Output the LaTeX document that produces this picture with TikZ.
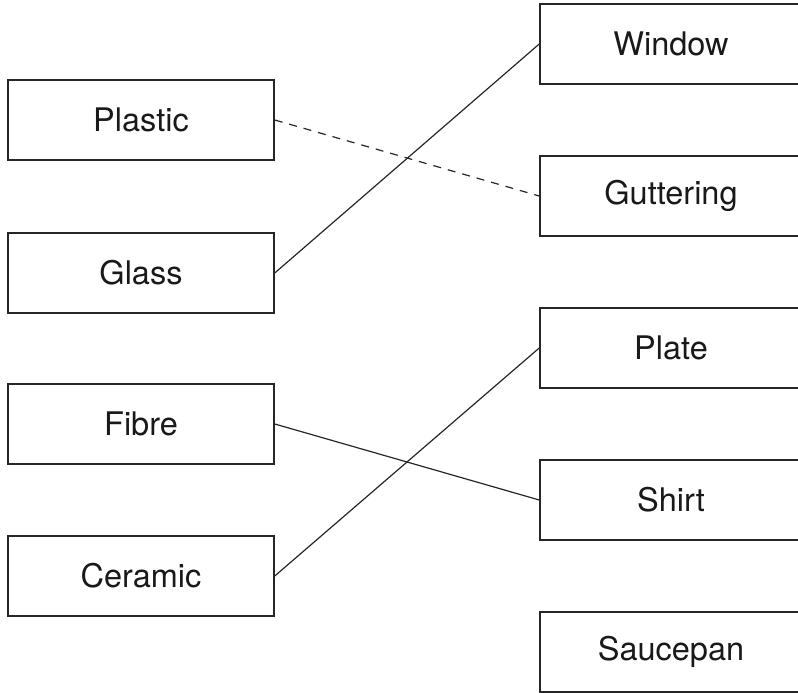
\documentclass[tikz,border=0pt]{standalone}
\usepackage{fontspec}
\setmainfont{TeX Gyre Heros}
\begin{document}
\begin{tikzpicture}[x=1pt,y=1pt,
  box/.style={draw=black!85,line width=1.5pt,minimum width=266pt,minimum height=80pt,inner sep=0pt,font=\fontsize{32.5}{38}\selectfont,text=black!90},
  rbox/.style={box,minimum width=262pt},
  link/.style={draw=black!85,line width=1.2pt},
  dlink/.style={link,dash pattern=on 8pt off 7pt}]
\clip (0,0) rectangle (798,693);
\useasboundingbox (0,0) rectangle (798,693);
% left column (image y -> 693 - y)
\node[box] (plastic) at (141,573) {Plastic};
\node[box] (glass)   at (141,420) {Glass};
\node[box] (fibre)   at (141,269) {Fibre};
\node[box] (ceramic) at (141,117) {Ceramic};
% right column
\node[rbox] (window)    at (671,649) {Window};
\node[rbox] (guttering) at (671,497) {Guttering};
\node[rbox] (plate)     at (671,345) {Plate};
\node[rbox] (shirt)     at (671,193) {Shirt};
\node[rbox] (saucepan)  at (671,41)  {Saucepan};
% connectors
\draw[dlink] (plastic.east) -- (guttering.west);
\draw[link] (glass.east) -- (window.west);
\draw[link] (fibre.east) -- (shirt.west);
\draw[link] (ceramic.east) -- (plate.west);
\end{tikzpicture}
\end{document}
